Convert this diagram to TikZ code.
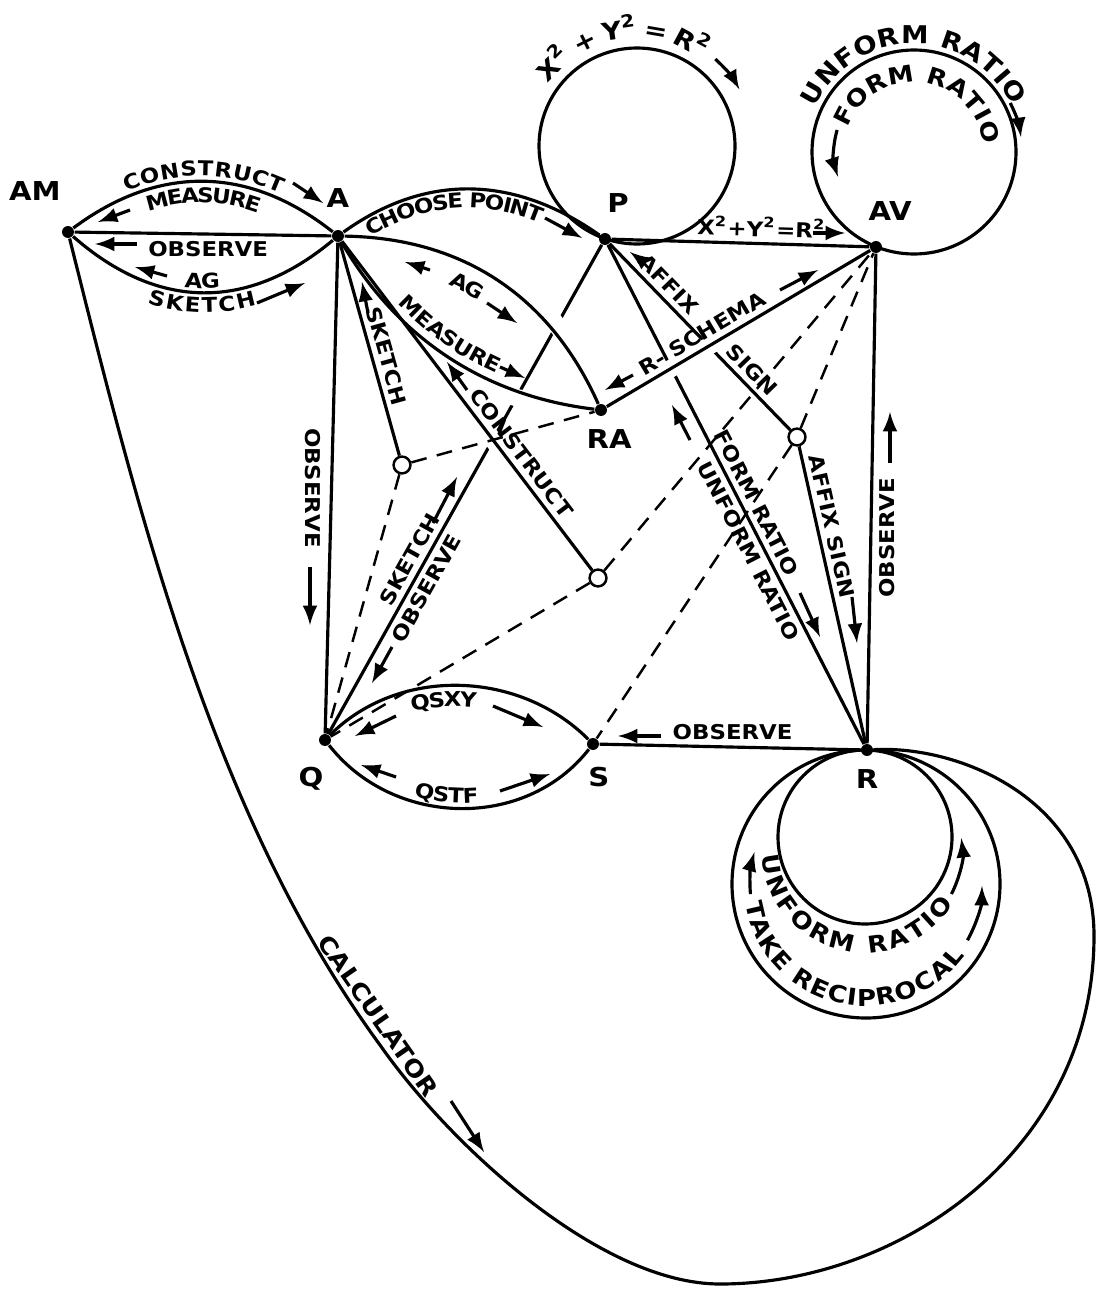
\documentclass[tikz,border=0pt]{standalone}
\usepackage{fontspec}
\setmainfont{DejaVu Sans}[FakeStretch=1.12]
\usetikzlibrary{decorations.text}

\newcommand\lblfont{\bfseries\fontsize{5.8}{6}\selectfont}
\newcommand\namefont{\bfseries\fontsize{7.4}{8}\selectfont}
\newcommand\ringfont{\bfseries\fontsize{7}{7}\selectfont}
\newcommand\ringsmall{\bfseries\fontsize{6.6}{7}\selectfont}

\tikzset{
  jn/.style={circle, fill, inner sep=0pt, minimum size=3.4pt},
  hub/.style={circle, draw, fill=white, inner sep=0pt, minimum size=4.8pt, line width=0.7pt},
  link/.style={line width=0.9pt},
  thin link/.style={line width=0.7pt, dash pattern=on 4.5pt off 3pt},
  tag/.style={font=\lblfont, inner sep=1.5pt},
  lbl arrow/.style={-latex, line width=0.9pt},
  over/.style 2 args={preaction={draw=white, line width=5pt, shorten <=#1, shorten >=#2}},
  path text/.style n args={3}{postaction={decorate, decoration={text along path,
      text={|\lblfont|#1}, raise=#2, text align={center, right indent=#3}}}},
}

\begin{document}
\begin{tikzpicture}[x=0.01cm, y=-0.01cm]
\useasboundingbox (0,0) rectangle (1100,1297);
% junctions
\node[jn, label={[font=\namefont, xshift=-9.4pt, label distance=3.6pt]above:AM}] (AM) at (68,232) {};
\node[jn, label={[font=\namefont, label distance=2.8pt]above:A}] (A) at (338,236) {};
\node[jn, label={[font=\namefont, xshift=3.7pt, label distance=2pt]above:P}] (P) at (605,239) {};
\node[jn, label={[font=\namefont, xshift=4pt, label distance=2pt]above:AV}] (AV) at (876,247) {};
\node[jn, label={[font=\namefont, xshift=2.3pt, label distance=0.2pt]below:RA}] (RA) at (601,410) {};
\node[jn, label={[font=\namefont, xshift=-4pt, label distance=2.2pt]below:Q}] (Q) at (325,740) {};
\node[jn, label={[font=\namefont, xshift=1.7pt, label distance=1.1pt]below:S}] (S) at (593,744) {};
\node[jn, label={[font=\namefont, label distance=0pt]below:R}] (R) at (867,750) {};
\node[hub] (SK) at (402,465) {};
\node[hub] (CN) at (598,578) {};
\node[hub] (AF) at (797,437) {};
\coordinate (Pc) at (637,146);
\coordinate (AVc) at (914,152);
\coordinate (Ri) at (865,837);
\coordinate (Rt) at (865,850);
\coordinate (Ro) at (866,884);

% loops
\draw[link] (Pc) circle (98);
\path[decorate, decoration={text along path, text align=fit to path,
  text={|\ringfont|{X\textsuperscript{2}}+{Y\textsuperscript{2}}={R\textsuperscript{2}}}}]
  (Pc) ++(-145:108) arc[start angle=-145, end angle=-52, radius=108];
\draw[lbl arrow] (Pc) ++(-48:117) arc[start angle=-48, end angle=-29, radius=117];
\draw[link] (AVc) circle (102);
\path[decorate, decoration={text along path, text align=fit to path, text={|\ringfont|UNFORM RATIO}}]
  (AVc) ++(-156:108) arc[start angle=-156, end angle=-25, radius=108];
\draw[lbl arrow] (AVc) ++(-27:108) arc[start angle=-27, end angle=-8, radius=108];
\path[decorate, decoration={text along path, text align=fit to path, text={|\ringsmall|FORM RATIO}}]
  (AVc) ++(-160:70) arc[start angle=-160, end angle=-6, radius=70];
\draw[lbl arrow] (AVc) ++(-164:80) arc[start angle=-164, end angle=-198, radius=80];
\draw[link] (Ri) circle (87);
\draw[link] (Ro) circle (134);
\path[decorate, decoration={text along path, text align=fit to path, text={|\ringsmall|UNFORM RATIO}}]
  (Rt) ++(177:103) arc[start angle=177, end angle=31, radius=103];
\draw[lbl arrow] (Rt) ++(27:97) arc[start angle=27, end angle=-7, radius=97];
\path[decorate, decoration={text along path, text align=fit to path, text={|\ringsmall|TAKE RECIPROCAL}}]
  (Ro) ++(171:122) arc[start angle=171, end angle=36, radius=122];
\draw[lbl arrow] (Ro) ++(175:116) arc[start angle=175, end angle=196, radius=116];
\draw[lbl arrow] (Ro) ++(29:116) arc[start angle=29, end angle=1, radius=116];

% calculator
\draw[link] (AM) .. controls (140,520) and (215,820) .. (380,1045)
  node[tag, font=\ringsmall, pos=0.97, sloped, above] {CALCULATOR}
  .. controls (450,1145) and (600,1284) .. (720,1284)
  .. controls (900,1284) and (1094,1150) .. (1094,936)
  .. controls (1094,800) and (960,745) .. (R);

% lines passing under
\draw[link] (P) -- (Q) node[tag, pos=0.657, sloped, above] {SKETCH}
  node[tag, pos=0.687, sloped, below] {OBSERVE};
\draw[link] (P) -- (AF) node[tag, pos=0.27, sloped, above] {AFFIX}
  node[tag, pos=0.73, sloped, above] {SIGN};
\draw[link] (P) -- (R) node[tag, pos=0.53, sloped, above] {FORM RATIO}
  node[tag, pos=0.6, sloped, below] {UNFORM RATIO};

% lines passing over
\draw[link, over={45pt}{12pt}, path text={AG}{-8pt}{14pt}] (A) .. controls (463,238) and (550,296) .. (RA);
\draw[link, over={50pt}{15pt}, path text={MEASURE}{2.5pt}{6pt}] (A) .. controls (397,338) and (484,396) .. (RA);
\draw[link, over={50pt}{40pt}] (A) -- (CN) node[tag, pos=0.67, sloped, above] {CONSTRUCT};
\draw[link, over={15pt}{40pt}] (RA) -- (AV) node[tag, pos=0.39, sloped, above] {R- SCHEMA};

% the rest
\draw[link, path text={CONSTRUCT}{1.5pt}{0pt}, path text={MEASURE}{-6.1pt}{0pt}]
  (AM) .. controls (158,165) and (248,165) .. (A);
\draw[link] (AM) -- (A) node[tag, pos=0.52, below] {OBSERVE};
\draw[link, path text={AG}{1.3pt}{0pt}, path text={SKETCH}{-5.6pt}{0pt}]
  (AM) .. controls (158,311) and (248,311) .. (A);
\draw[link, path text={CHOOSE POINT}{-5.4pt}{11pt}] (A) .. controls (426,173) and (514,175) .. (P);
\draw[link] (A) -- (Q) node[tag, inner sep=2.6pt, pos=0.5, rotate=-90, anchor=north] {OBSERVE};
\draw[link] (A) -- (SK) node[tag, pos=0.55, sloped, above] {SKETCH};
\draw[link] (P) -- (AV) node[tag, pos=0.58, sloped, above] {X\textsuperscript{2}+Y\textsuperscript{2}=R\textsuperscript{2}};
\draw[link] (AV) -- (R) node[tag, inner sep=2pt, pos=0.58, rotate=90, anchor=north] {OBSERVE};
\draw[link] (AF) -- (R) node[tag, pos=0.28, sloped, above] {AFFIX SIGN};
\draw[link] (S) -- (R) node[tag, pos=0.51, above] {OBSERVE};
\draw[link, path text={QSXY}{-6pt}{9.6pt}] (Q) .. controls (399,666) and (519,670) .. (S);
\draw[link, path text={QSTF}{1.5pt}{7.4pt}] (Q) .. controls (393,827) and (525,831) .. (S);

% dashed
\draw[thin link] (SK) -- (RA);
\draw[thin link] (SK) -- (Q);
\draw[thin link] (CN) -- (Q);
\draw[thin link] (CN) -- (AV);
\draw[thin link] (AF) -- (AV);
\draw[thin link] (AF) -- (S);

% label arrows
\draw[lbl arrow] (293,183) -- (323,203);
\draw[lbl arrow] (130,210) -- (98,222);
\draw[lbl arrow] (137,244) -- (95,244);
\draw[lbl arrow] (167,276) -- (135,267);
\draw[lbl arrow] (257,303) -- (305,283);
\draw[lbl arrow] (545,218) -- (582,238);
\draw[lbl arrow] (430,270) -- (405,262);
\draw[lbl arrow] (487,303) -- (517,323);
\draw[lbl arrow] (500,367) -- (525,378);
\draw[lbl arrow] (467,390) -- (447,362);
\draw[lbl arrow] (368,313) -- (362,282);
\draw[lbl arrow] (310,567) -- (310,625);
\draw[lbl arrow] (433,523) -- (457,477);
\draw[lbl arrow] (392,647) -- (372,683);
\draw[lbl arrow] (645,263) -- (630,252);
\draw[lbl arrow] (633,375) -- (605,390);
\draw[lbl arrow] (780,290) -- (818,270);
\draw[lbl arrow] (813,233) -- (845,233);
\draw[lbl arrow] (800,593) -- (820,637);
\draw[lbl arrow] (690,440) -- (672,405);
\draw[lbl arrow] (852,597) -- (857,643);
\draw[lbl arrow] (890,463) -- (890,412);
\draw[lbl arrow] (661,736) -- (618,736);
\draw[lbl arrow] (396,716) -- (355,736);
\draw[lbl arrow] (493,706) -- (543,727);
\draw[lbl arrow] (396,777) -- (361,765);
\draw[lbl arrow] (500,791) -- (550,774);
\draw[lbl arrow] (451,1101) -- (484,1152);
\end{tikzpicture}
\end{document}
